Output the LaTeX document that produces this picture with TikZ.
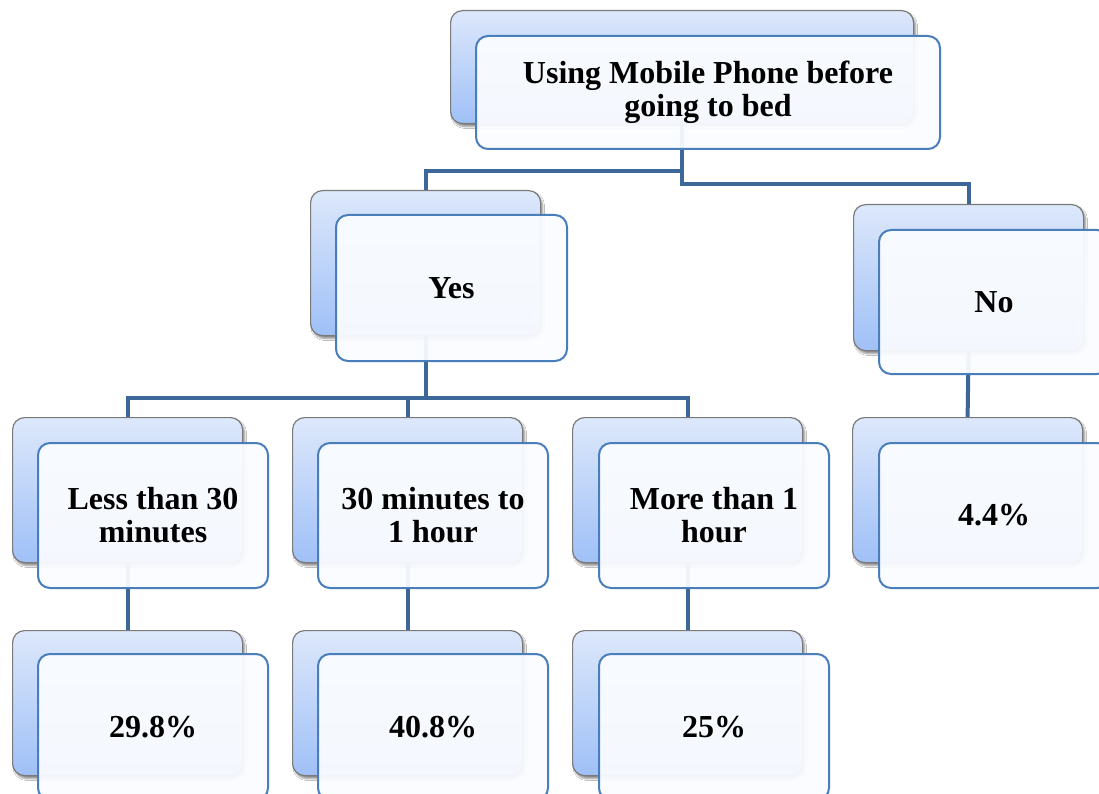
\documentclass[tikz,border=0pt]{standalone}
\usepackage{fontspec}
\setmainfont{Liberation Serif}
\usetikzlibrary{shadows.blur}
\definecolor{lineblue}{HTML}{3D6799}
\definecolor{backtop}{HTML}{DDE8FB}
\definecolor{backbot}{HTML}{9FC0F7}
\definecolor{backedge}{HTML}{7A7A7A}
\definecolor{frontedge}{HTML}{4A7EBB}
\definecolor{frontfill}{HTML}{FAFCFF}
\tikzset{
  backbox/.style={rectangle, rounded corners=12pt, draw=backedge, line width=1.2pt,
    top color=backtop, bottom color=backbot, anchor=north west, inner sep=0pt,
    blur shadow={shadow blur steps=6, shadow xshift=2pt, shadow yshift=-3pt, shadow opacity=45}},
  frontbox/.style={rectangle, rounded corners=12pt, draw=frontedge, line width=2pt,
    fill=frontfill, fill opacity=0.94, text opacity=1, anchor=north west, inner sep=0pt,
    align=center, font=\fontsize{32}{33}\selectfont\bfseries},
  conn/.style={draw=lineblue, line width=4pt}
}
\newcommand{\boxpair}[5]{%
  \node[backbox, minimum width=#4pt, minimum height=#5pt] (#1B) at (#2,#3) {};
}
\newcommand{\frontpair}[6]{%
  \node[frontbox, minimum width=#4pt, minimum height=#5pt] (#1F) at (#2+25,#3+25) {#6};
}
\begin{document}
\begin{tikzpicture}[x=1pt,y=-1pt]
\useasboundingbox (0,0) rectangle (1099,794);
\fill[white] (0,0) rectangle (1099,794);
% back boxes
\boxpair{top}{450}{10}{463}{113}
\boxpair{yes}{310}{190}{230}{145}
\boxpair{no}{853}{204}{230}{146}
\boxpair{la}{12}{417}{230}{145}
\boxpair{lb}{292}{417}{230}{145}
\boxpair{lc}{572}{417}{230}{145}
\boxpair{ld}{852}{417}{230}{145}
\boxpair{pa}{12}{630}{230}{145}
\boxpair{pb}{292}{630}{230}{145}
\boxpair{pc}{572}{630}{230}{145}
% connectors
\draw[conn] (topB.south) -- ++(0,47) -| (yesB.north);
\draw[conn] (topB.south) -- ++(0,60) -| (noB.north);
\draw[conn] (yesB.south) -- ++(0,62) -| (laB.north);
\draw[conn] (yesB.south) -- ++(0,62) -| (lbB.north);
\draw[conn] (yesB.south) -- ++(0,62) -| (lcB.north);
\draw[conn] (noB.south) -- (ldB.north);
\draw[conn] (laB.south) -- (paB.north);
\draw[conn] (lbB.south) -- (pbB.north);
\draw[conn] (lcB.south) -- (pcB.north);
% front boxes
\frontpair{top}{450}{10}{464}{113}{Using Mobile Phone before\\going to bed}
\frontpair{yes}{310}{189}{231}{146}{Yes}
\frontpair{no}{853}{204}{230}{144}{No}
\frontpair{la}{12}{417}{230}{145}{Less than 30\\minutes}
\frontpair{lb}{292}{417}{230}{145}{30 minutes to\\1 hour}
\frontpair{lc}{573}{417}{230}{145}{More than 1\\hour}
\frontpair{ld}{853}{417}{230}{145}{4.4\%}
\frontpair{pa}{12}{628}{230}{146}{29.8\%}
\frontpair{pb}{292}{628}{230}{146}{40.8\%}
\frontpair{pc}{573}{628}{230}{146}{25\%}
\end{tikzpicture}
\end{document}
